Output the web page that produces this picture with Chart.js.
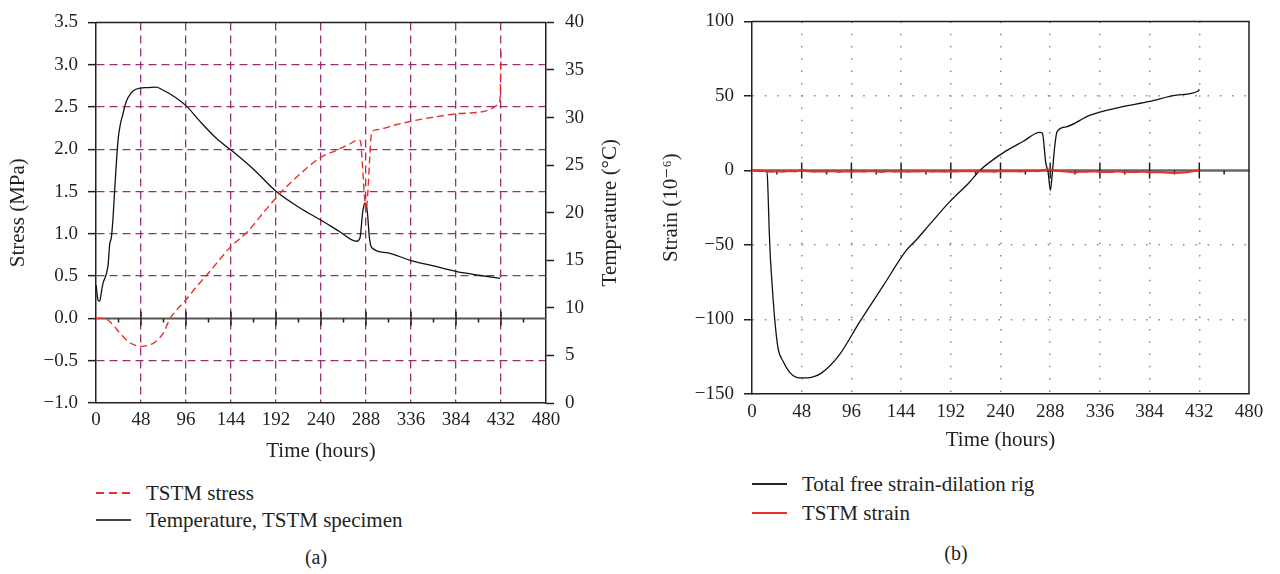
<!DOCTYPE html>
<html lang="en">
  <head>
    <meta charset="UTF-8" />
    <title>TSTM stress, temperature and strain</title>
    <style>
      body { margin: 0; background: #fff; }
      main { position: relative; width: 1280px; height: 574px; font-family: "Liberation Serif", "DejaVu Serif", serif; color: #231f20; }
      canvas { position: absolute; top: 0; }
      #chartA { left: 0; }
      #chartB { left: 640px; }
      .leg { position: absolute; font-size: 21px; line-height: 24px; white-space: nowrap; }
      .leg b { position: absolute; left: 0; top: 11px; width: 35px; height: 1.5px; }
      .leg span { position: absolute; left: 50px; top: 0; }
      .cap { position: absolute; font-size: 20px; transform: translate(-50%, -50%); }
    </style>
  </head>
  <body>
    <main>
      <canvas id="chartA" width="640" height="470"></canvas>
      <canvas id="chartB" width="640" height="470"></canvas>
      <div class="leg" style="left:96px;top:481px"><b style="background:repeating-linear-gradient(to right,#e8302a 0 8px,transparent 8px 13px)"></b><span>TSTM stress</span></div>
      <div class="leg" style="left:96px;top:508px"><b style="background:#444"></b><span>Temperature, TSTM specimen</span></div>
      <div class="cap" style="left:316px;top:557px">(a)</div>
      <div class="leg" style="left:752px;top:472px"><b style="background:#222"></b><span>Total free strain-dilation rig</span></div>
      <div class="leg" style="left:752px;top:501px"><b style="background:#e8302a"></b><span>TSTM strain</span></div>
      <div class="cap" style="left:956px;top:553px">(b)</div>
    </main>
    <script src="https://cdn.jsdelivr.net/npm/chart.js"></script>
    <script>
      // (a) TSTM stress (MPa) vs time (hours)
      const stressTime = [0, 5, 10, 14, 20, 26, 33, 40, 48, 55, 60, 66, 72, 79, 86, 96, 106, 118, 130, 143, 162, 180, 198, 215, 239, 257, 270, 280, 282, 284, 286, 288, 290, 292, 294, 299, 320, 340, 360, 385, 410, 420, 429, 431, 431.5, 432];
      const stressValues = [0, 0, 0, -0.03, -0.1, -0.18, -0.26, -0.31, -0.33, -0.32, -0.3, -0.25, -0.17, 0, 0.1, 0.22, 0.36, 0.51, 0.67, 0.84, 1.03, 1.27, 1.5, 1.68, 1.9, 1.99, 2.06, 2.11, 2.1, 1.85, 1.5, 1.26, 1.5, 1.9, 2.2, 2.23, 2.29, 2.34, 2.38, 2.42, 2.44, 2.47, 2.53, 2.6, 2.85, 3.15];
      // (a) temperature of TSTM specimen (°C)
      const tempTime = [0, 0.8, 2.2, 4, 5.5, 7.5, 9, 11.1, 13, 14.6, 16.4, 18.2, 20, 23.5, 26, 28.8, 31, 34.2, 39.5, 46.7, 55, 64.5, 70, 78.7, 96.5, 110, 128.6, 146.3, 167.7, 192.7, 217.6, 242, 260, 278, 281.7, 284.5, 287, 289.4, 291.6, 294, 310, 335, 360, 385, 410, 431];
      const tempValues = [12.4, 11.8, 10.8, 10.7, 11.5, 12.6, 13.0, 13.6, 14.6, 16.7, 17.4, 19.5, 22.5, 27.6, 29.3, 30.4, 31.3, 32.1, 32.8, 33.1, 33.15, 33.2, 32.95, 32.5, 31.2, 29.7, 27.8, 26.4, 24.6, 22.2, 20.5, 19.1, 18.0, 17.0, 17.4, 20.1, 21.0, 20.1, 17.4, 16.35, 15.8, 15.0, 14.4, 13.8, 13.4, 13.1];
      const stressTicks = [3.5, 3.0, 2.5, 2.0, 1.5, 1.0, 0.5, 0.0, -0.5, -1.0];

      // (b) strain (10^-6) vs time (hours)
      const freeTime = [0, 14.5, 15.5, 16.5, 17.5, 18.7, 21.9, 25.1, 30, 36.4, 42.9, 49.3, 57.4, 67, 84.7, 104, 126.5, 149, 158.8, 171.6, 191, 210, 220, 242.4, 261.7, 277.9, 280.5, 283.7, 286, 288.2, 290.1, 292.4, 294.6, 303.6, 326, 355, 384, 410, 431, 432];
      const freeStrain = [0, -1, -15, -38, -55, -69, -99.5, -119, -128, -135.5, -138.8, -139.2, -138.8, -136, -123.4, -101.6, -77.6, -53.7, -46.5, -36.2, -20.9, -7.9, 0, 11.8, 19.4, 25.5, 24.9, 5.2, -1.3, -13.3, -1.3, 16.2, 26, 29.3, 36.9, 42.3, 46.3, 50.6, 53.3, 54.5];
      const tstmTime = [0, 6, 12, 18, 24, 30, 36, 42, 48, 54, 60, 66, 72, 78, 84, 90, 96, 102, 108, 114, 120, 126, 132, 138, 144, 150, 156, 162, 168, 174, 180, 186, 192, 198, 204, 210, 216, 222, 228, 234, 240, 246, 252, 258, 264, 270, 276, 282, 288, 294, 300, 306, 312, 318, 324, 330, 336, 342, 348, 354, 360, 366, 372, 378, 384, 390, 396, 402, 408, 414, 420, 426, 432];
      const tstmStrain = [0, 0, -0.3, -0.8, -0.5, -0.9, -0.4, -0.7, 0.2, -0.6, -0.9, -0.5, -0.8, -0.4, -1.0, -0.6, -0.9, -0.5, -0.8, -0.3, -0.7, -1.0, -0.4, -0.8, -0.6, -0.9, -0.5, -0.7, -0.4, -0.8, -0.6, -0.9, -0.5, -0.7, -0.4, -0.6, -0.3, -0.7, -0.5, -0.8, -0.4, -0.6, -0.3, -0.7, -0.5, -0.2, -0.6, 0.3, 0.8, -0.2, -0.6, -0.9, -1.4, -0.7, -0.9, -0.5, -1.1, -0.8, -1.0, -0.6, -1.2, -0.9, -1.1, -0.7, -1.3, -1.0, -1.2, -1.6, -1.8, -1.5, -1.2, -0.6, 0];

      const ink = "#231f20";
      const purple = "#9c2f6f";
      const red = "#e8302a";
      const serif = "'Liberation Serif', 'DejaVu Serif', serif";
      Chart.defaults.font.family = serif;
      Chart.defaults.font.size = 19;
      Chart.defaults.color = ink;

      function pts(xs, ys) {
        return xs.map((x, i) => ({ x: x, y: ys[i] }));
      }
      function minus(v, digits) {
        const s = Math.abs(v).toFixed(digits);
        return v < 0 ? "\u2212" + s : s;
      }
      function hideAt(values, color) {
        return (c) => (c.tick && values.includes(c.tick.value) ? "rgba(0,0,0,0)" : color);
      }

      // zero line with its tick marks, frame lines, and a right-hand title
      const frameLines = {
        id: "frameLines",
        beforeDatasetsDraw(chart, args, o) {
          const { ctx, chartArea: a, scales } = chart;
          const y0 = scales.y.getPixelForValue(0);
          ctx.save();
          ctx.strokeStyle = o.zeroColor;
          ctx.lineWidth = o.zeroWidth;
          ctx.beginPath();
          ctx.moveTo(a.left, y0);
          ctx.lineTo(a.right, y0);
          ctx.stroke();
          ctx.strokeStyle = ink;
          ctx.lineWidth = 1.5;
          const ticks = scales.x.ticks;
          ctx.beginPath();
          ticks.forEach((t, i) => {
            const px = scales.x.getPixelForValue(t.value);
            if (i > 0 && i < ticks.length - 1) {
              ctx.moveTo(px, y0 - o.majorLen);
              ctx.lineTo(px, y0 + o.majorLen);
            }
            if (i < ticks.length - 1) {
              const mid = scales.x.getPixelForValue((t.value + ticks[i + 1].value) / 2);
              ctx.moveTo(mid, y0);
              ctx.lineTo(mid, y0 + o.minorLen);
            }
          });
          ctx.stroke();
          ctx.restore();
        },
        afterDraw(chart, args, o) {
          const { ctx, chartArea: a } = chart;
          ctx.save();
          ctx.strokeStyle = ink;
          ctx.lineWidth = 1.5;
          ctx.beginPath();
          ctx.moveTo(a.left, a.top);
          ctx.lineTo(a.right, a.top);
          if (o.rightBorder) {
            ctx.lineTo(a.right, a.bottom);
          }
          ctx.stroke();
          if (o.rightTitle) {
            ctx.translate(o.rightTitleX, (a.top + a.bottom) / 2);
            ctx.rotate(-Math.PI / 2);
            ctx.fillStyle = ink;
            ctx.font = "21px " + serif;
            ctx.textAlign = "center";
            ctx.textBaseline = "middle";
            ctx.fillText(o.rightTitle, 0, 0);
          }
          ctx.restore();
        },
      };

      const timeTicks = {
        min: 0,
        max: 480,
        stepSize: 48,
      };

      new Chart(document.getElementById("chartA"), {
        type: "line",
        data: {
          datasets: [
            {
              label: "TSTM stress",
              data: pts(stressTime, stressValues),
              borderColor: red,
              borderWidth: 1.4,
              borderDash: [7, 4],
              pointRadius: 0,
              cubicInterpolationMode: "monotone",
              yAxisID: "y",
            },
            {
              label: "Temperature, TSTM specimen",
              data: pts(tempTime, tempValues),
              borderColor: "#111",
              borderWidth: 1.3,
              pointRadius: 0,
              cubicInterpolationMode: "monotone",
              yAxisID: "y2",
            },
          ],
        },
        options: {
          responsive: false,
          animation: false,
          layout: { padding: { top: 12, left: 0, right: 0, bottom: 0 } },
          plugins: {
            legend: { display: false },
            tooltip: { enabled: false },
            frameLines: {
              zeroColor: "#555",
              zeroWidth: 2,
              majorLen: 7,
              minorLen: 4,
              rightBorder: false,
              rightTitle: "Temperature (\u00b0C)",
              rightTitleX: 610,
            },
          },
          scales: {
            x: {
              type: "linear",
              min: timeTicks.min,
              max: timeTicks.max,
              ticks: { stepSize: timeTicks.stepSize, padding: 6, maxRotation: 0 },
              grid: { color: hideAt([0, 480], purple), lineWidth: 1.3, drawTicks: false },
              border: { display: true, color: ink, width: 1.5, dash: [8, 5] },
              title: { display: true, text: "Time (hours)", font: { size: 21 }, padding: { top: 0, bottom: 6 } },
              afterFit: (s) => { s.height = 67; },
            },
            y: {
              position: "left",
              min: -1,
              max: 3.5,
              afterBuildTicks: (s) => { s.ticks = stressTicks.map((v) => ({ value: v })); },
              ticks: { padding: 10, callback: (v) => minus(v, 1) },
              grid: { color: hideAt([3.5, 0, -1], purple), lineWidth: 1.3, tickLength: 8, tickColor: ink, tickWidth: 1.5 },
              border: { display: true, color: ink, width: 1.5, dash: [8, 5] },
              title: { display: true, text: "Stress (MPa)", font: { size: 21 }, padding: { top: 6, bottom: 0 } },
              afterFit: (s) => { s.width = 96; },
            },
            y2: {
              position: "right",
              min: 0,
              max: 40,
              ticks: { stepSize: 5, padding: 11 },
              grid: { drawOnChartArea: false, tickLength: 8, tickColor: ink, tickWidth: 1.5 },
              border: { display: true, color: ink, width: 1.5 },
              afterFit: (s) => { s.width = 94; },
            },
          },
        },
        plugins: [frameLines],
      });

      new Chart(document.getElementById("chartB"), {
        type: "line",
        data: {
          datasets: [
            {
              label: "TSTM strain",
              data: pts(tstmTime, tstmStrain),
              borderColor: red,
              borderWidth: 2,
              pointRadius: 0,
            },
            {
              label: "Total free strain-dilation rig",
              data: pts(freeTime, freeStrain),
              borderColor: "#111",
              borderWidth: 1.3,
              pointRadius: 0,
              cubicInterpolationMode: "monotone",
            },
          ],
        },
        options: {
          responsive: false,
          animation: false,
          layout: { padding: { top: 12, left: 0, right: 31, bottom: 0 } },
          plugins: {
            legend: { display: false },
            tooltip: { enabled: false },
            frameLines: {
              zeroColor: "#666",
              zeroWidth: 2.5,
              majorLen: 8,
              minorLen: 4,
              rightBorder: true,
            },
          },
          scales: {
            x: {
              type: "linear",
              min: timeTicks.min,
              max: timeTicks.max,
              ticks: { stepSize: timeTicks.stepSize, padding: 7, maxRotation: 0 },
              grid: { color: hideAt([0, 480], "#8a8a8a"), lineWidth: 1.5, drawTicks: false },
              border: { display: true, color: ink, width: 1.5, dash: [1.5, 10.8] },
              title: { display: true, text: "Time (hours)", font: { size: 21 }, padding: { top: 0, bottom: 17 } },
              afterFit: (s) => { s.height = 76; },
            },
            y: {
              position: "left",
              min: -150,
              max: 100,
              ticks: { stepSize: 50, padding: 10, callback: (v) => minus(v, 0) },
              grid: { color: hideAt([100, 0, -150], "#8a8a8a"), lineWidth: 1.5, tickLength: 8, tickColor: ink, tickWidth: 1.5 },
              border: { display: true, color: ink, width: 1.5, dash: [1.5, 10.8] },
              title: { display: true, text: "Strain (10\u207b\u2076)", font: { size: 21 }, padding: { top: 19, bottom: 0 } },
              afterFit: (s) => { s.width = 112; },
            },
          },
        },
        plugins: [frameLines],
      });
    </script>
  </body>
</html>
